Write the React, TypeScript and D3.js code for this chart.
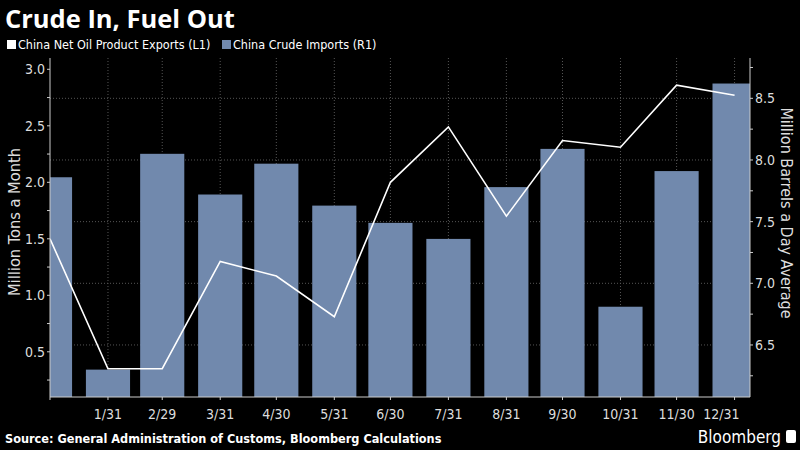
import * as d3 from "d3";

const dates = [
  "2015-12-31", "2016-01-31", "2016-02-29", "2016-03-31", "2016-04-30", "2016-05-31", "2016-06-30",
  "2016-07-31", "2016-08-31", "2016-09-30", "2016-10-31", "2016-11-30", "2016-12-31",
];
const tickLabels = ["1/31", "2/29", "3/31", "4/30", "5/31", "6/30", "7/31", "8/31", "9/30", "10/31", "11/30", "12/31"];
// China net oil product exports, million tons a month (L1)
const exportsL1 = [1.5, 0.35, 0.35, 1.3, 1.17, 0.81, 2.0, 2.49, 1.7, 2.37, 2.31, 2.86, 2.77];
// China crude imports, million barrels a day (R1)
const importsR1 = [7.86, 6.3, 8.05, 7.72, 7.97, 7.63, 7.49, 7.36, 7.78, 8.09, 6.81, 7.91, 8.62];
const leftTicks = [0.5, 1.0, 1.5, 2.0, 2.5, 3.0];
const rightTicks = [6.5, 7.0, 7.5, 8.0, 8.5];

const W = 800;
const H = 450;
const m = { left: 50, right: 750, top: 58, bottom: 397 };
const BAR = "#7189ad";
const FONT = "'DejaVu Sans', sans-serif";

export default function App() {
  const parsed = dates.map((d) => new Date(d + "T00:00:00Z"));
  const x = d3
    .scaleUtc()
    .domain([parsed[0], new Date("2017-01-08T06:00:00Z")])
    .range([m.left, m.right]);
  const yL = d3.scaleLinear().domain([0.1, 3.1]).range([m.bottom, m.top]);
  const yR = d3.scaleLinear().domain([6.078, 8.827]).range([m.bottom, m.top]);
  const day = x(new Date("2016-01-02T00:00:00Z")) - x(new Date("2016-01-01T00:00:00Z"));
  const bw = day * 23.6;

  const line = d3
    .line<number>()
    .x((_, i) => x(parsed[i]))
    .y((v) => yL(v));

  const leftMinor = d3.range(0.25, 3.01, 0.25);
  const rightMinor = d3.range(6.25, 8.81, 0.25);

  return (
    <svg width={W} height={H} style={{ position: "absolute", left: 0, top: 0, background: "#000" }}>
      <rect width={W} height={H} fill="#000" />
      <defs>
        <clipPath id="plot">
          <rect x={m.left} y={m.top} width={m.right - m.left} height={m.bottom - m.top} />
        </clipPath>
      </defs>
      <text x={5} y={28} fill="#fff" fontFamily="'Open Sans', sans-serif" fontWeight="bold" fontSize={25.5}>
        Crude In, Fuel Out
      </text>
      <rect x={7} y={40} width={9} height={9} fill="#fff" />
      <text x={18} y={49} fill="#fff" fontFamily={FONT} fontSize={12.5} style={{ fontStretch: "condensed" }}>
        China Net Oil Product Exports  (L1)
      </text>
      <rect x={222} y={40} width={9} height={9} fill={BAR} />
      <text x={233} y={49} fill="#fff" fontFamily={FONT} fontSize={12.5} style={{ fontStretch: "condensed" }}>
        China Crude Imports (R1)
      </text>

      {/* grid */}
      <g stroke="#555" strokeDasharray="1,2" strokeWidth={1}>
        {rightTicks.map((t) => (
          <line key={"h" + t} x1={m.left} x2={m.right} y1={yR(t)} y2={yR(t)} />
        ))}
        {parsed.slice(1).map((d, i) => (
          <line key={"v" + i} x1={x(d)} x2={x(d)} y1={m.top} y2={m.bottom} />
        ))}
      </g>

      <g clipPath="url(#plot)">
        {importsR1.map((v, i) => (
          <rect key={i} x={x(parsed[i]) - bw / 2} y={yR(v)} width={bw} height={m.bottom - yR(v)} fill={BAR} />
        ))}
        <path d={line(exportsL1) || ""} fill="none" stroke="#fff" strokeWidth={1.6} />
      </g>

      {/* axes */}
      <g stroke="#ccc" strokeWidth={1}>
        <line x1={m.left} x2={m.left} y1={m.top} y2={m.bottom} />
        <line x1={m.right} x2={m.right} y1={m.top} y2={m.bottom} />
        <line x1={m.left} x2={m.right} y1={m.bottom} y2={m.bottom} />
        {leftMinor.map((t) => (
          <line key={"lm" + t} x1={m.left - 3} x2={m.left} y1={yL(t)} y2={yL(t)} />
        ))}
        {rightMinor.map((t) => (
          <line key={"rm" + t} x1={m.right} x2={m.right + 3} y1={yR(t)} y2={yR(t)} />
        ))}
        {parsed.map((d, i) => (
          <line key={"bt" + i} x1={x(d)} x2={x(d)} y1={m.bottom} y2={m.bottom + 3} />
        ))}
      </g>
      <g fill="#ddd" fontFamily={FONT} fontSize={14} style={{ fontStretch: "condensed" }}>
        {leftTicks.map((t) => (
          <text key={"l" + t} x={m.left - 5} y={yL(t) + 5} textAnchor="end">
            {t.toFixed(1)}
          </text>
        ))}
        {rightTicks.map((t) => (
          <text key={"r" + t} x={m.right + 5} y={yR(t) + 5}>
            {t.toFixed(1)}
          </text>
        ))}
        {tickLabels.map((t, i) => {
          const last = i === tickLabels.length - 1;
          return (
            <text
              key={"b" + t}
              x={last ? x(parsed[i + 1]) + 5 : x(parsed[i + 1])}
              y={m.bottom + 22}
              textAnchor={last ? "end" : "middle"}
            >
              {t}
            </text>
          );
        })}
      </g>
      <text
        transform="translate(20,222) rotate(-90)"
        textAnchor="middle"
        fill="#ddd"
        fontFamily={FONT}
        fontSize={16.3}
        style={{ fontStretch: "condensed" }}
      >
        Million Tons a Month
      </text>
      <text
        transform="translate(781,213) rotate(90)"
        textAnchor="middle"
        fill="#ddd"
        fontFamily={FONT}
        fontSize={16}
        style={{ fontStretch: "condensed" }}
      >
        Million Barrels a Day Average
      </text>

      <text x={5} y={443} fill="#fff" fontFamily={FONT} fontWeight="bold" fontSize={12.6} style={{ fontStretch: "condensed" }}>
        Source: General Administration of Customs, Bloomberg Calculations
      </text>
      <text x={781} y={443} textAnchor="end" fill="#fff" fontFamily={FONT} fontSize={17} style={{ fontStretch: "condensed" }}>
        Bloomberg
      </text>
      <rect x={786} y={430} width={10} height={13} rx={2} fill="#fff" />
    </svg>
  );
}
